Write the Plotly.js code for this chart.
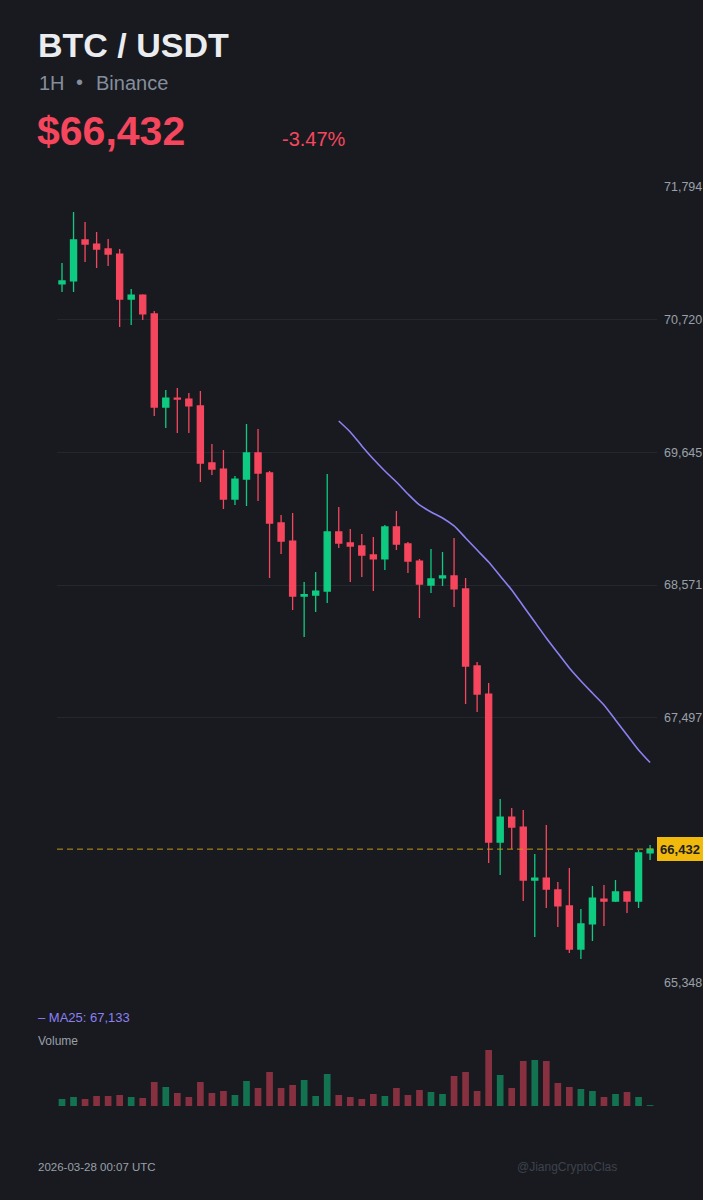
<!DOCTYPE html>
<html>
<head>
<meta charset="utf-8">
<script src="https://cdn.plot.ly/plotly-3.0.1.min.js"></script>
<style>
html,body{margin:0;padding:0;background:#181a20;}
#chart{width:703px;height:1200px;}
</style>
</head>
<body>
<div id="chart"></div>
<script>
// ---- data (1H candles, BTC/USDT, Binance) ----
const startTime = '2026-03-25T21:00:00Z';
const opens  = [71009,71033,71365,71332,71292,71251,70887,70919,70766,70012,70085,70077,70021,69559,69510,69267,69429,69640,69478,69073,68927,68482,68490,68522,69000,68911,68887,68814,68782,69041,68903,68765,68571,68628,68644,68539,67915,67688,66490,66692,66611,66182,66198,66101,65972,65623,65826,66028,66012,66085,66012,66401];
const highs  = [71179,71592,71511,71430,71373,71292,70968,70925,70790,70150,70166,70126,70142,69713,69664,69454,69875,69834,69494,69138,69154,68595,68676,69470,69203,69025,68984,68960,69057,69170,68919,68782,68863,68838,68952,68628,67948,67777,66838,66765,66749,66393,66627,66166,66279,65947,66134,66142,66182,66090,66425,66466];
const lows   = [70944,70944,71187,71138,71154,70660,70677,70717,69940,69842,69802,69802,69405,69462,69186,69219,69211,69251,68628,68822,68369,68150,68352,68425,68871,68595,68636,68522,68693,68854,68668,68304,68506,68563,68393,67607,67543,66320,66223,66433,66012,65721,65955,65802,65591,65542,65688,65810,66004,65915,65955,66344];
const closes = [71033,71365,71332,71292,71251,70887,70919,70766,70012,70085,70077,70021,69559,69510,69267,69429,69640,69478,69073,68927,68482,68492,68522,69000,68911,68887,68814,68782,69041,68903,68765,68579,68620,68644,68539,67915,67688,66490,66692,66611,66182,66198,66109,65972,65623,65826,66036,66012,66085,66012,66401,66432];
const volumes = [315,405,315,450,450,495,405,360,1080,855,585,405,1080,585,675,495,1125,810,1530,810,945,1170,450,1440,495,405,315,540,450,810,495,720,630,540,1350,1530,675,2520,1395,810,2025,2070,2025,1035,855,765,675,405,540,630,405,40];
// MA25 values, first value at candle 25
const ma25 = [69899,69810,69697,69591,69494,69405,69308,69219,69162,69114,69049,68952,68854,68757,68644,68531,68401,68271,68142,68020,67899,67794,67696,67599,67478,67356,67235,67133];
const priceTicks = [65348,67497,68571,69645,70720,71794];
const lastPrice = 66432;
const changePct = '-3.47%';
const maLabel = 'MA25: 67,133';
const stampText = '2026-03-28 00:07 UTC';
const handle = '@JiangCryptoClas';

// ---- derived ----
const H = 3600000;
const t0 = Date.parse(startTime);
const times = opens.map((_, i) => new Date(t0 + i * H).toISOString());
const maTimes = times.slice(times.length - ma25.length);
const fmt = v => v.toLocaleString('en-US');

const GREEN = '#0ecb81', RED = '#f6465d';
const volColors = closes.map((c, i) => c >= opens[i] ? 'rgba(14,203,129,0.5)' : 'rgba(246,70,93,0.5)');

const W = 703, HT = 1200;
const px = x => x / W;
const py = y => 1 - y / HT;

const traces = [
  {
    type: 'candlestick', x: times, open: opens, high: highs, low: lows, close: closes,
    xaxis: 'x', yaxis: 'y',
    increasing: {line: {color: GREEN, width: 1.3}, fillcolor: GREEN},
    decreasing: {line: {color: RED, width: 1.3}, fillcolor: RED},
    whiskerwidth: 0, hoverinfo: 'skip'
  },
  {
    type: 'scatter', mode: 'lines', x: maTimes, y: ma25, xaxis: 'x', yaxis: 'y',
    line: {color: '#8c80f2', width: 1.6, shape: 'spline', smoothing: 0.6}, hoverinfo: 'skip'
  },
  {
    type: 'bar', x: times, y: volumes, xaxis: 'x', yaxis: 'y2',
    marker: {color: volColors}, width: 0.58 * H, hoverinfo: 'skip'
  }
];

const font = 'Liberation Sans, Arial, Helvetica, sans-serif';
const ann = (text, x, y, size, color, opts) => Object.assign({
  text: text, xref: 'paper', yref: 'paper', x: px(x), y: py(y),
  xanchor: 'left', yanchor: 'middle', showarrow: false,
  font: {family: font, size: size, color: color}
}, opts || {});

const layout = {
  width: W, height: HT,
  margin: {l: 0, r: 0, t: 0, b: 0},
  paper_bgcolor: '#181a20', plot_bgcolor: '#181a20',
  showlegend: false,
  boxgap: 0.47,
  boxgroupgap: 0,
  bargap: 0.4,
  xaxis: {
    type: 'date', domain: [px(57), px(657)],
    range: [new Date(t0 - 0.434 * H).toISOString(), new Date(t0 + 51.6 * H).toISOString()],
    showgrid: false, showticklabels: false, zeroline: false, showline: false, ticks: '',
    rangeslider: {visible: false}, fixedrange: true
  },
  yaxis: {
    domain: [py(983), py(187)], range: [65348, 71794],
    side: 'right', tickvals: priceTicks, ticktext: priceTicks.map(fmt),
    ticks: '', ticklabelstandoff: 6,
    tickfont: {family: font, size: 12.5, color: '#9aa0a8'},
    showgrid: true, gridcolor: '#24272e', gridwidth: 1,
    zeroline: false, showline: false, fixedrange: true
  },
  yaxis2: {
    domain: [py(1106), py(1046)], range: [0, 2700],
    showgrid: false, showticklabels: false, zeroline: false, showline: false, fixedrange: true
  },
  shapes: [
    {type: 'line', xref: 'x domain', yref: 'y', x0: 0, x1: 1, y0: lastPrice, y1: lastPrice,
     line: {color: '#c29a12', width: 1, dash: '6px,4px'}}
  ],
  annotations: [
    ann('<b>BTC / USDT</b>', 36, 45, 34, '#eaecef'),
    ann('1H', 37, 83, 20, '#848e9c'),
    ann('•', 79, 82, 20, '#848e9c', {xanchor: 'center'}),
    ann('Binance', 94, 83, 20, '#848e9c'),
    ann('<b>$' + fmt(lastPrice) + '</b>', 35, 131, 41, RED),
    ann(changePct, 280, 139, 20, RED),
    ann('– ' + maLabel, 36, 1017, 13, '#8c80f2'),
    ann('Volume', 36, 1041, 12, '#9aa0a8'),
    ann(stampText, 36, 1167, 11.5, '#9aa0a8'),
    ann(handle, 515, 1167, 12, '#3e424b'),
    {text: '<b>' + fmt(lastPrice) + '</b>', xref: 'paper', yref: 'y', x: px(703), y: lastPrice,
     xanchor: 'right', yanchor: 'middle', showarrow: false, bgcolor: '#f0b90b',
     width: 46, height: 24, borderpad: 0, borderwidth: 0,
     font: {family: font, size: 13, color: '#1e2026'}}
  ]
};

Plotly.newPlot('chart', traces, layout, {staticPlot: true, displayModeBar: false});
</script>
</body>
</html>
